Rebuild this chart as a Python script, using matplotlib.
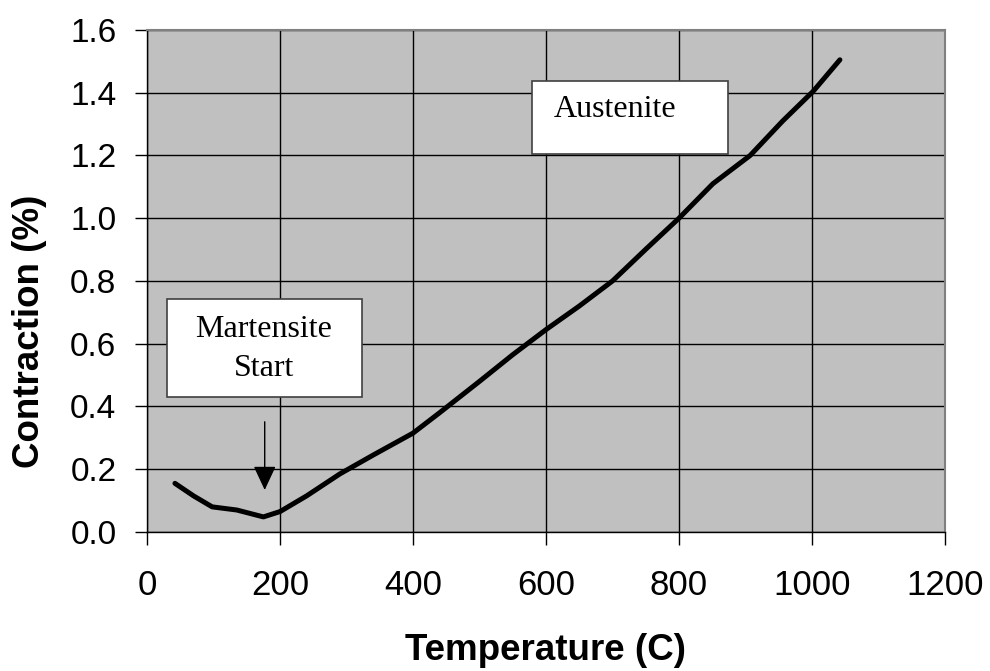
import matplotlib
matplotlib.use("Agg")
import matplotlib.pyplot as plt

# Dilatometry trace: contraction vs. temperature on cooling
temperature = [42, 70, 98, 135, 175, 200, 240, 290, 340, 400, 440, 500, 550,
               600, 650, 700, 752, 800, 851, 907, 956, 1002, 1042]
contraction = [0.155, 0.115, 0.08, 0.07, 0.048, 0.065, 0.115, 0.185, 0.245,
               0.315, 0.38, 0.48, 0.565, 0.645, 0.72, 0.80, 0.905, 1.0, 1.11,
               1.20, 1.31, 1.405, 1.505]

x_ticks = [0, 200, 400, 600, 800, 1000, 1200]
y_ticks = [0.0, 0.2, 0.4, 0.6, 0.8, 1.0, 1.2, 1.4, 1.6]

fig = plt.figure(figsize=(9.9, 6.71), dpi=100)
ax = fig.add_axes([0.1485, 0.2072, 0.806, 0.7481])
ax.set_facecolor("#c0c0c0")

ax.plot(temperature, contraction, color="black", lw=3.6, solid_capstyle="round",
        solid_joinstyle="round", zorder=3)

ax.set_xlim(0, 1200)
ax.set_ylim(0, 1.6)
ax.set_xticks(x_ticks)
ax.set_yticks(y_ticks)
ax.set_yticklabels([f"{v:.1f}" for v in y_ticks])
ax.grid(True, color="black", lw=1.0)
ax.set_axisbelow(True)

for side in ["left", "bottom"]:
    ax.spines[side].set_color("black")
    ax.spines[side].set_linewidth(1.0)
for side in ["top", "right"]:
    ax.spines[side].set_color("#808080")
    ax.spines[side].set_linewidth(1.5)

ax.tick_params(direction="out", length=9, width=1.0)
ax.tick_params(axis="x", labelsize=25, pad=18)
ax.tick_params(axis="y", labelsize=24, pad=13)
for lbl in ax.get_xticklabels() + ax.get_yticklabels():
    lbl.set_fontfamily("Liberation Sans")

ax.set_xlabel("Temperature (C)", fontsize=26.5, fontweight="bold",
              family="Liberation Sans", labelpad=22)
ax.set_ylabel("Contraction (%)", fontsize=26.5, fontweight="bold",
              family="Liberation Sans")
ax.yaxis.set_label_coords(-0.125, 0.40)

# Annotation boxes
ax.add_patch(plt.Rectangle((30, 0.43), 293, 0.313, facecolor="white",
                           edgecolor="#404040", lw=1.2, zorder=4))
ax.text(176, 0.644, "Martensite", ha="center", va="center", fontsize=23,
        family="Liberation Serif", zorder=5)
ax.text(176, 0.52, "Start", ha="center", va="center", fontsize=23,
        family="Liberation Serif", zorder=5)

ax.add_patch(plt.Rectangle((579, 1.205), 295, 0.232, facecolor="white",
                           edgecolor="#404040", lw=1.2, zorder=4))
ax.text(612, 1.345, "Austenite", ha="left", va="center", fontsize=23,
        family="Liberation Serif", zorder=5)

ax.annotate("", xy=(177, 0.125), xytext=(177, 0.36),
            arrowprops=dict(arrowstyle="-|>,head_length=1.5,head_width=0.7",
                            color="black", lw=1.0), zorder=5)

fig.savefig("out.png", dpi=100)
